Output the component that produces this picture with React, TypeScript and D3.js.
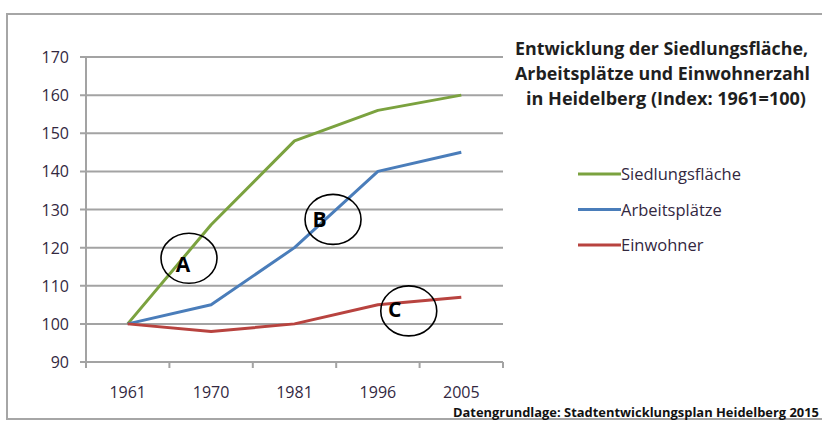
import React from "react";
import * as d3 from "d3";

const years = ["1961", "1970", "1981", "1996", "2005"];
const siedlung = [100, 126, 148, 156, 160];
const arbeit = [100, 105, 120, 140, 145];
const einwohner = [100, 98, 100, 105, 107];
const yTicks = [90, 100, 110, 120, 130, 140, 150, 160, 170];
const seriesNames = ["Siedlungsfläche", "Arbeitsplätze", "Einwohner"];
const seriesColors = ["#7ba23f", "#4a7dba", "#b8433f"];
const titleLines = [
  "Entwicklung der Siedlungsfläche,",
  "Arbeitsplätze und Einwohnerzahl",
  "in Heidelberg (Index: 1961=100)",
];
const footer = "Datengrundlage: Stadtentwicklungsplan Heidelberg 2015";
// annotation circles: [label, position in category units, value]
const annotations: [string, number, number][] = [
  ["A", 0.735, 117.2],
  ["B", 2.462, 127.4],
  ["C", 3.37, 103.4],
];
const annotationLetterOffsets: [number, number][] = [
  [-6, 14],
  [-13.5, 8],
  [-14, 6.5],
];

const FONT = "'Open Sans', 'Noto Sans', sans-serif";

export default function App() {
  const left = 86, right = 503, top = 57, bottom = 362;
  const x = d3.scaleBand<string>().domain(years).range([left, right]);
  const y = d3.scaleLinear().domain([90, 170]).range([bottom, top]);
  const xc = (i: number) => left + (i + 0.5) * x.step();
  const line = d3
    .line<number>()
    .x((_, i) => (x(years[i]) as number) + x.bandwidth() / 2)
    .y((v) => y(v));
  const all = [siedlung, arbeit, einwohner];
  const titleLens = [293, 295, 280];
  const titleX = [515, 515, 526];

  return (
    <svg
      width={822}
      height={426}
      style={{ position: "absolute", left: 0, top: 0, background: "#fff" }}
    >
      <rect x={7} y={14} width={830} height={405} fill="#fff" stroke="#a6a6a6" strokeWidth={2} />
      {yTicks.map((t) => (
        <g key={t}>
          <line x1={80} x2={right} y1={y(t)} y2={y(t)} stroke="#a3a3a3" strokeWidth={2} />
          <text
            x={69}
            y={y(t) + 6}
            textAnchor="end"
            fontFamily={FONT}
            fontSize={16}
            fill="#33283f"
          >
            {t}
          </text>
        </g>
      ))}
      <line x1={left} x2={left} y1={top} y2={bottom + 6} stroke="#a3a3a3" strokeWidth={2} />
      {d3.range(years.length + 1).map((i) => (
        <line
          key={i}
          x1={left + i * x.step()}
          x2={left + i * x.step()}
          y1={bottom}
          y2={bottom + 6}
          stroke="#a3a3a3"
          strokeWidth={2}
        />
      ))}
      {years.map((yr) => (
        <text
          key={yr}
          x={(x(yr) as number) + x.bandwidth() / 2}
          y={398}
          textAnchor="middle"
          fontFamily={FONT}
          fontSize={16}
          fill="#33283f"
        >
          {yr}
        </text>
      ))}
      {all.map((s, i) => (
        <path
          key={i}
          d={line(s) as string}
          fill="none"
          stroke={seriesColors[i]}
          strokeWidth={3}
          strokeLinejoin="round"
        />
      ))}
      {annotations.map(([lab, pos, val], i) => (
        <g key={lab}>
          <ellipse cx={xc(pos)} cy={y(val)} rx={28} ry={25} fill="none" stroke="#000" strokeWidth={1.6} />
          <text
            x={xc(pos) + annotationLetterOffsets[i][0]}
            y={y(val) + annotationLetterOffsets[i][1]}
            textAnchor="middle"
            fontFamily={FONT}
            fontWeight="bold"
            fontSize={21}
            fill="#000"
          >
            {lab}
          </text>
        </g>
      ))}
      {titleLines.map((t, i) => (
        <text
          key={i}
          x={titleX[i]}
          y={54.5 + i * 25}
          fontFamily={FONT}
          fontWeight="bold"
          fontSize={18}
          fill="#1f1f1f"
          textLength={titleLens[i]}
          lengthAdjust="spacingAndGlyphs"
        >
          {t}
        </text>
      ))}
      {seriesNames.map((n, i) => (
        <g key={n}>
          <line
            x1={578}
            x2={621}
            y1={174 + i * 35.5}
            y2={174 + i * 35.5}
            stroke={seriesColors[i]}
            strokeWidth={3}
          />
          <text
            x={621}
            y={174 + i * 35.5 + 6}
            fontFamily={FONT}
            fontSize={16.5}
            fill="#33283f"
          >
            {n}
          </text>
        </g>
      ))}
      <text
        x={453}
        y={416.5}
        fontFamily={FONT}
        fontWeight="bold"
        fontSize={12}
        fill="#111"
        textLength={366}
        lengthAdjust="spacingAndGlyphs"
      >
        {footer}
      </text>
    </svg>
  );
}
